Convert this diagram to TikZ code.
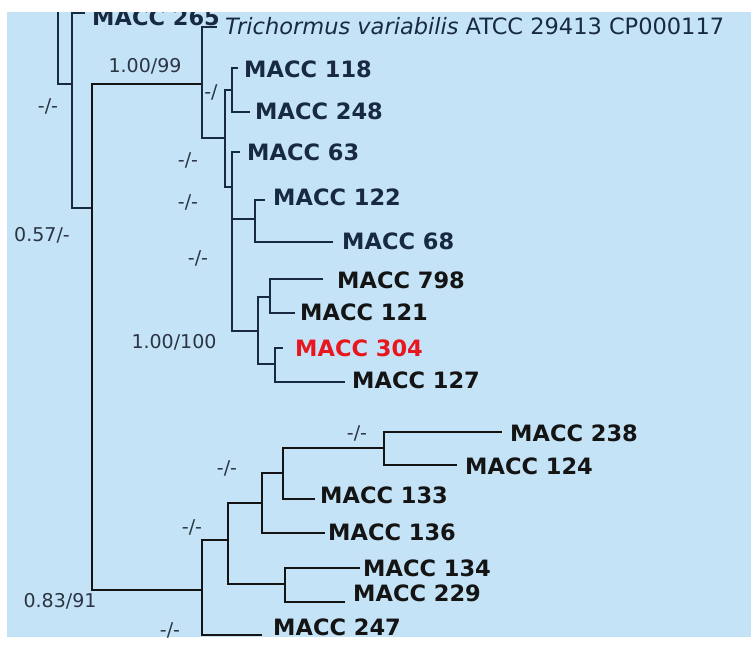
\documentclass[tikz,border=0pt]{standalone}
\usepackage{fontspec}
\setmainfont{DejaVu Sans}
\usetikzlibrary{positioning}
\definecolor{skyback}{RGB}{197,227,247}
\definecolor{navyink}{RGB}{24,42,64}
\definecolor{supink}{RGB}{42,52,66}
\definecolor{hilite}{RGB}{232,22,30}

\begin{document}
\begin{tikzpicture}[
		x=1pt, y=-1pt,
		branch/.style={draw=navyink, line width=1.7pt},
		heavybranch/.style={draw=black!92, line width=2.4pt},
		taxon/.style={anchor=west, inner sep=0pt, font=\fontsize{22.5}{24}\selectfont\bfseries, text=navyink},
		taxonblk/.style={taxon, text=black!92},
		strain/.style={anchor=west, inner sep=0pt, font=\fontsize{22.5}{24}\selectfont, text=navyink},
		support/.style={inner sep=0pt, font=\fontsize{19}{20}\selectfont, text=supink}
		]
		
		\useasboundingbox (0,0) rectangle (751,645);
		\fill[skyback] (7,12) rectangle (751,637);
		
		\begin{scope}
			\clip (7,12) rectangle (751,637);
			
			% --------------------------------------------------
			% Internal nodes and tips
			% --------------------------------------------------
			\coordinate (r0) at (58,0);
			\coordinate (r1) at (72,84);
			\coordinate (r2) at (92,208);
			\coordinate (cup) at (202,84);
			\coordinate (clow) at (202,590);
			
			\coordinate (u1) at (225,138);
			\coordinate (u2) at (232,90);
			\coordinate (u3) at (232,187);
			\coordinate (u4) at (255,219);
			\coordinate (u5) at (258,331);
			\coordinate (u6) at (270,297);
			\coordinate (u7) at (275,364);
			
			\coordinate (l1) at (228,540);
			\coordinate (l2) at (262,503);
			\coordinate (l3) at (283,473);
			\coordinate (l4) at (384,448);
			\coordinate (l5) at (285,584);
			
			\coordinate (t265) at (85,13);
			\coordinate (ttri) at (217,27);
			\coordinate (t118) at (238,68);
			\coordinate (t248) at (250,112);
			\coordinate (t63) at (240,152);
			\coordinate (t122) at (265,200);
			\coordinate (t68) at (333,242);
			\coordinate (t798) at (323,279);
			\coordinate (t121) at (295,313);
			\coordinate (t304) at (283,348);
			\coordinate (t127) at (345,382);
			\coordinate (t238) at (502,432);
			\coordinate (t124) at (457,465);
			\coordinate (t133) at (315,499);
			\coordinate (t136) at (325,533);
			\coordinate (t134) at (360,568);
			\coordinate (t229) at (345,602);
			\coordinate (t247) at (262,635);
			
			% --------------------------------------------------
			% Branches
			% --------------------------------------------------
			\draw[branch] (r0) |- (r1);
			\draw[branch] (r1) |- (t265) (r1) |- (r2);
			\draw[heavybranch] (r2) |- (cup) (r2) |- (clow);
			
			% upper clade
			\draw[branch] (cup) |- (ttri) (cup) |- (u1);
			\draw[branch] (u1) |- (u2) (u1) |- (u3);
			\draw[branch] (u2) |- (t118) (u2) |- (t248);
			\draw[branch] (u3) |- (t63) (u3) |- (u4) (u3) |- (u5);
			\draw[branch] (u4) |- (t122) (u4) |- (t68);
			\draw[branch] (u5) |- (u6) (u5) |- (u7);
			\draw[branch] (u6) |- (t798) (u6) |- (t121);
			\draw[branch] (u7) |- (t304) (u7) |- (t127);
			
			% lower clade
			\draw[heavybranch] (clow) |- (l1) (clow) |- (t247);
			\draw[heavybranch] (l1) |- (l2) (l1) |- (l5);
			\draw[heavybranch] (l2) |- (l3) (l2) |- (t136);
			\draw[heavybranch] (l3) |- (l4) (l3) |- (t133);
			\draw[heavybranch] (l4) |- (t238) (l4) |- (t124);
			\draw[heavybranch] (l5) |- (t134) (l5) |- (t229);
			
			% --------------------------------------------------
			% Taxa
			% --------------------------------------------------
			\node[taxon] (n265) at (92,17) {MACC 265};
			\node[strain] (ntri) at (225,26) {\textit{Trichormus variabilis} ATCC 29413 CP000117};
			\node[taxon] (n118) at (244,69) {MACC 118};
			\node[taxon] (n248) at (255,111) {MACC 248};
			\node[taxon] (n63) at (247,152) {MACC 63};
			\node[taxon] (n122) at (273,197) {MACC 122};
			\node[taxon] (n68) at (342,241) {MACC 68};
			\node[taxonblk] (n798) at (337,280) {MACC 798};
			\node[taxonblk] (n121) at (300,312) {MACC 121};
			\node[taxon, text=hilite] (n304) at (295,348) {MACC 304};
			\node[taxonblk] (n127) at (352,380) {MACC 127};
			\node[taxonblk] (n238) at (510,433) {MACC 238};
			\node[taxonblk] (n124) at (465,466) {MACC 124};
			\node[taxonblk] (n133) at (320,495) {MACC 133};
			\node[taxonblk] (n136) at (328,532) {MACC 136};
			\node[taxonblk] (n134) at (363,568) {MACC 134};
			\node[taxonblk] (n229) at (353,593) {MACC 229};
			\node[taxonblk] (n247) at (273,627) {MACC 247};
			
			% --------------------------------------------------
			% Support values
			% --------------------------------------------------
			\node[support] (s1) at (48,106) {-/-};
			\node[support] (s2) at (42,235) {0.57/-};
			\node[support] (s3) at (145,66) {1.00/99};
			\node[support] (s4) at (211,92) {-/};
			\node[support] (s5) at (188,160) {-/-};
			\node[support] (s6) at (188,202) {-/-};
			\node[support] (s7) at (198,258) {-/-};
			\node[support] (s8) at (174,342) {1.00/100};
			\node[support] (s9) at (357,433) {-/-};
			\node[support] (s10) at (227,468) {-/-};
			\node[support] (s11) at (192,527) {-/-};
			\node[support] (s12) at (60,601) {0.83/91};
			\node[support] (s13) at (170,630) {-/-};
		\end{scope}
		
	\end{tikzpicture}
\end{document}
